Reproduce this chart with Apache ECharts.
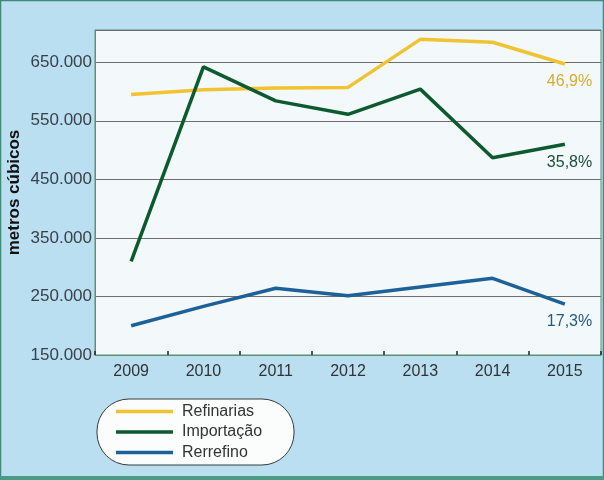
<!DOCTYPE html>
<html>
<head>
<meta charset="utf-8">
<title>metros cúbicos</title>
<script src="https://cdn.jsdelivr.net/npm/echarts@6/dist/echarts.min.js"></script>
<style>
  html, body { margin: 0; padding: 0; background: #b9dff1; }
  #chart { width: 604px; height: 480px; }
</style>
</head>
<body>
<div id="chart"></div>
<script>
// data
const years = ['2009', '2010', '2011', '2012', '2013', '2014', '2015']
const refinarias = [595000, 603000, 606000, 607000, 689000, 684000, 647000]
const importacao = [310000, 642000, 584000, 561000, 604000, 487000, 510000]
const rerrefino = [200000, 233000, 264000, 251000, 266000, 281000, 237000]
const seriesNames = ['Refinarias', 'Importação', 'Rerrefino']
const shares = ['46,9%', '35,8%', '17,3%']
const yTicks = [150000, 250000, 350000, 450000, 550000, 650000]

const colors = ['#f1c332', '#0d5a2e', '#1d6199']
const labelColors = ['#d6ad2f', '#1c4f37', '#1f5a88']
const font = '"Liberation Sans", Arial, sans-serif'

function makeSeries(name, data, i) {
  return {
    name: name,
    type: 'line',
    data: data,
    symbol: 'none',
    showSymbol: false,
    lineStyle: { color: colors[i], width: 3.5 },
    itemStyle: { color: colors[i] },
    // share of the last year, under the line end
    endLabel: {
      show: true,
      formatter: shares[i],
      offset: [-26, 18],
      color: labelColors[i],
      fontFamily: font,
      fontSize: 16,
    },
    animation: false,
  }
}

const chart = echarts.init(document.getElementById('chart'))
chart.setOption({
  backgroundColor: '#b9dff1',
  animation: false,
  graphic: [
    {
      type: 'rect',
      shape: { x: 0.5, y: 0.5, width: 603, height: 479 },
      style: { fill: 'none', stroke: '#3f8a76', lineWidth: 1.5 },
      silent: true,
    },
    {
      type: 'rect',
      shape: { x: 0, y: 476, width: 604, height: 4 },
      style: { fill: '#4a9a86' },
      silent: true,
    },
  ],
  grid: {
    left: 95,
    right: 3,
    top: 30,
    bottom: 125,
    outerBoundsMode: 'none',
    show: true,
    backgroundColor: '#f3f8fa',
    borderColor: '#5e8f7a',
    borderWidth: 1,
  },
  legend: {
    data: seriesNames,
    orient: 'vertical',
    // thin bar as the legend mark
    icon: 'path://M0,0 H57 V3.5 H0 Z',
    left: 97,
    top: 399,
    padding: [4.5, 32, 4.5, 19],
    backgroundColor: '#fbfdfd',
    borderColor: '#3a3a3a',
    borderWidth: 1,
    borderRadius: 32,
    itemWidth: 57,
    itemHeight: 15,
    itemGap: 4.5,
    textStyle: { color: '#333', fontFamily: font, fontSize: 16, lineHeight: 15, padding: [0, 0, 0, 4] },
  },
  xAxis: {
    type: 'category',
    data: years,
    boundaryGap: true,
    axisLine: { show: true, lineStyle: { color: '#5e8f7a', width: 1 } },
    axisTick: { show: true, inside: true, length: 4, lineStyle: { color: '#222', width: 1.5 } },
    axisLabel: { color: '#333', fontFamily: font, fontSize: 16, margin: 9 },
  },
  yAxis: {
    type: 'value',
    min: 150000,
    max: 705000,
    interval: 100000,
    name: 'metros cúbicos',
    nameLocation: 'middle',
    nameGap: 72,
    nameMoveOverlap: false,
    nameTextStyle: { color: '#111', fontFamily: font, fontSize: 17, fontWeight: 'bold' },
    axisLine: { show: true, lineStyle: { color: '#5e8f7a', width: 1 } },
    axisTick: { show: false },
    axisLabel: {
      color: '#3a4148',
      fontFamily: font,
      fontSize: 17,
      margin: 3,
      formatter: v => yTicks.indexOf(v) < 0 ? '' : (v / 1000).toFixed(0) + '.000',
    },
    splitLine: {
      show: true,
      lineStyle: { color: '#6e6e6e', width: 1 },
    },
  },
  series: [
    makeSeries(seriesNames[0], refinarias, 0),
    makeSeries(seriesNames[1], importacao, 1),
    makeSeries(seriesNames[2], rerrefino, 2),
  ],
})
</script>
</body>
</html>
